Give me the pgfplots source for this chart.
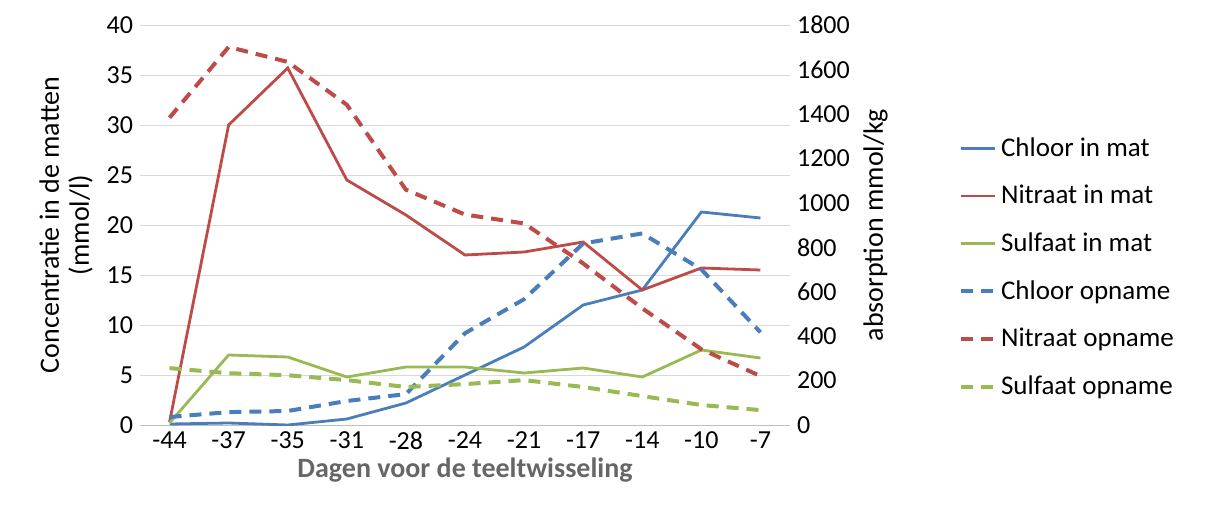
\documentclass[border=0pt]{standalone}
\usepackage{pgfplots}
\pgfplotsset{compat=1.18}
\usepackage{fontspec}
\setmainfont{Carlito}
\definecolor{cb}{HTML}{4A7EBB}
\definecolor{cr}{HTML}{BE4B48}
\definecolor{cg}{HTML}{98B954}
\begin{document}
\begin{tikzpicture}
\path[use as bounding box] (-70pt,-41.5pt) rectangle (539.5pt,212.5pt);
\pgfplotsset{every axis/.append style={scale only axis, width=325pt, height=200pt,
 xmin=-0.5, xmax=10.5, xtick={0,...,10}, tick style={draw=none},
 /pgf/number format/assume math mode=true, /pgf/number format/1000 sep={}, tick label style={font=\fontsize{13}{13}\selectfont},
 label style={font=\fontsize{14}{15}\selectfont}}}
\begin{axis}[ymin=0, ymax=40, ytick={0,5,...,40}, ymajorgrids, grid style={gray!30},
 axis line style={draw=none}, xticklabels={-44,-37,-35,-31,-28,-24,-21,-17,-14,-10,-7},
 xlabel={\textbf{Dagen voor de teeltwisseling}}, xlabel style={gray!80!black, yshift=3pt},
 ylabel={Concentratie in de matten\\(mmol/l)}, ylabel style={align=center}]
\draw[gray!50] (axis cs:-0.5,0) -- (axis cs:10.5,0);
\addplot[cb, line width=1.4pt] coordinates {(0,0.1)(1,0.2)(2,0)(3,0.6)(4,2.2)(5,5)(6,7.8)(7,12)(8,13.5)(9,21.3)(10,20.7)};
\addplot[cr, line width=1.4pt] coordinates {(0,0.3)(1,30)(2,35.7)(3,24.5)(4,21)(5,17)(6,17.3)(7,18.3)(8,13.5)(9,15.7)(10,15.5)};
\addplot[cg, line width=1.4pt] coordinates {(0,0.2)(1,7)(2,6.8)(3,4.8)(4,5.8)(5,5.8)(6,5.2)(7,5.7)(8,4.8)(9,7.5)(10,6.7)};
\end{axis}
\begin{axis}[ymin=0, ymax=1800, ytick={0,200,...,1800}, axis y line*=right, axis x line=none,
 y axis line style={draw=none}, ylabel={absorption mmol/kg},
 legend style={at={(1.25,0.74)}, anchor=north west, draw=none, font=\fontsize{13.5}{13.5}\selectfont, row sep=9pt},
 legend cell align=left]
\addlegendimage{cb, line width=1.4pt}\addlegendentry{Chloor in mat}
\addlegendimage{cr, line width=1.4pt}\addlegendentry{Nitraat in mat}
\addlegendimage{cg, line width=1.4pt}\addlegendentry{Sulfaat in mat}
\pgfplotsset{dsh/.style={line width=2pt, dash pattern=on 6pt off 4pt}}
\addplot[cb, dsh] coordinates {(0,36)(1,58)(2,63)(3,108)(4,139)(5,413)(6,566)(7,817)(8,862)(9,700)(10,417)};
\addlegendentry{Chloor opname}
\addplot[cr, dsh] coordinates {(0,1383)(1,1701)(2,1634)(3,1441)(4,1059)(5,947)(6,907)(7,727)(8,525)(9,341)(10,220)};
\addlegendentry{Nitraat opname}
\addplot[cg, dsh] coordinates {(0,256)(1,233)(2,224)(3,202)(4,171)(5,184)(6,202)(7,171)(8,130)(9,90)(10,67)};
\addlegendentry{Sulfaat opname}
\end{axis}
\end{tikzpicture}
\end{document}
